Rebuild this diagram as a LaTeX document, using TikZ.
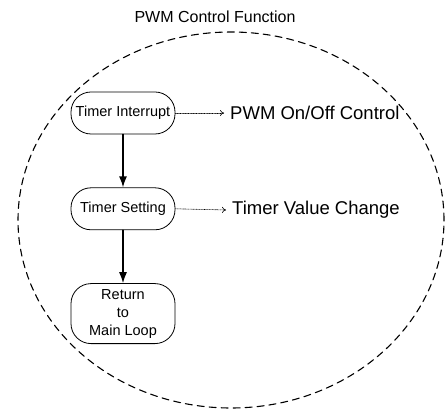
\documentclass[tikz,border=0pt]{standalone}
\usepackage{fontspec}
\setmainfont{Liberation Sans}
\usetikzlibrary{positioning,arrows.meta}

\begin{document}
\begin{tikzpicture}[line cap=round,line join=round,>=Stealth,x=1pt,y=1pt]

\def\ex{231} %boundary centre x
\def\ey{192} %boundary centre y
\def\erx{213pt} %boundary x radius
\def\ery{188pt} %boundary y radius
\def\bw{104pt} %box width
\def\bh{42pt} %box height
\def\gap{53pt} %gap between boxes

\tikzset{
  stepbox/.style={draw,line width=0.8pt,rounded corners=20pt,minimum width=\bw,minimum height=\bh,
    align=center,inner sep=2pt,font=\fontsize{14.5}{18}\selectfont},
  note/.style={inner sep=0pt,font=\fontsize{18.5}{20}\selectfont},
  flow/.style={-{Latex[length=11pt,width=8pt]},line width=1.4pt},
  hint/.style={-{To[length=4pt,width=6pt]},densely dotted,line width=0.6pt}
}

\useasboundingbox (0,0) rectangle (446,412);

%boundary
\draw[line width=1.1pt,dash pattern=on 7pt off 5pt] (\ex,\ey) ellipse [x radius=\erx,y radius=\ery];
\node[font=\fontsize{16}{18}\selectfont] (title) at (215,395) {PWM Control Function};

%flow
\node[stepbox] (tint) at (123,299) {Timer Interrupt};
\node[stepbox,below=\gap of tint] (tset) {Timer Setting};
\node[stepbox,below=\gap of tset,minimum height=60pt] (ret) {Return\\to\\Main Loop};

\draw[flow] (tint) -- (tset);
\draw[flow] (tset) -- (ret);

%notes
\node[note,anchor=west] (pwm) at (230,299) {PWM On/Off Control};
\node[note,anchor=west] (tval) at (232,202) {Timer Value Change};
\draw[hint] (tint.east) -- ([xshift=-6pt]pwm.west);
\draw[hint] (tset.east) -- ([xshift=-6pt]tval.west);

\end{tikzpicture}
\end{document}
